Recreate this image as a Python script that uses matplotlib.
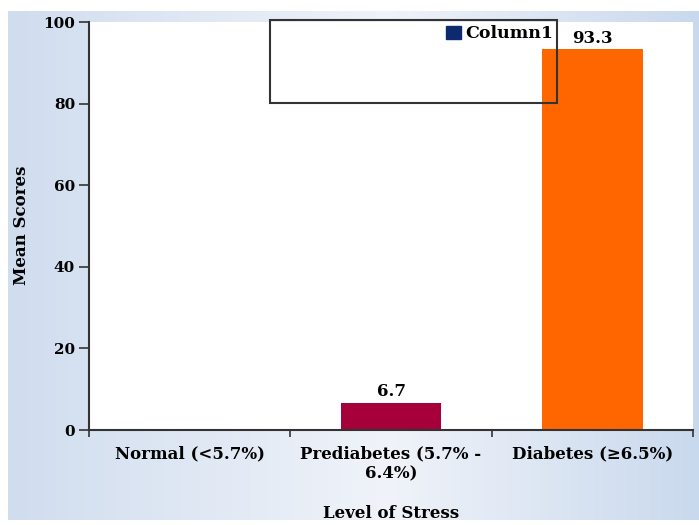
import numpy as np
import matplotlib
matplotlib.use("Agg")
import matplotlib.pyplot as plt
from matplotlib.colors import LinearSegmentedColormap
from matplotlib.patches import Rectangle, Patch

categories = ["Normal (<5.7%)", "Prediabetes (5.7% -\n6.4%)", "Diabetes (\u22656.5%)"]
values = [0, 6.7, 93.3]
bar_colors = ["#1f3f8f", "#a5003a", "#ff6600"]
y_ticks = [0, 20, 40, 60, 80, 100]
legend_label = "Column1"

plt.rcParams['font.family'] = ['DejaVu Serif']
plt.rcParams['font.weight'] = 'bold'

fig = plt.figure(figsize=(6.99, 5.25), dpi=100)
fig.patch.set_facecolor('white')

# gradient background panel
bg = fig.add_axes([8/699, 5/525, 691/699, 509/525])
cmap = LinearSegmentedColormap.from_list(
    "bg", [(0.0, "#d0ddef"), (0.55, "#f0f3f9"), (1.0, "#c9d9ed")])
grad = np.linspace(0, 1, 256).reshape(1, -1)
bg.imshow(grad, aspect='auto', cmap=cmap, extent=[0, 1, 0, 1])
bg.set_axis_off()

ax = fig.add_axes([89/699, 95/525, 604/699, 408/525])
ax.set_facecolor('white')
x = np.arange(len(categories))
bars = ax.bar(x, values, width=0.5, color=bar_colors)
ax.bar_label(bars, labels=[("" if v == 0 else f"{v:g}") for v in values],
             padding=2, fontsize=12, fontweight='bold')

ax.set_xlim(-0.5, len(categories) - 0.5)
ax.set_ylim(0, 100)
ax.set_yticks(y_ticks)
ax.set_yticklabels([str(t) for t in y_ticks], fontsize=11, fontweight='bold')
ax.set_xticks(np.arange(len(categories) + 1) - 0.5)
ax.set_xticklabels([])
ax.set_xticks(x, minor=True)
ax.set_xticklabels(categories, minor=True, fontsize=12, fontweight='bold')
ax.tick_params(axis='x', which='minor', length=0, pad=11)
ax.tick_params(axis='x', which='major', length=5, width=1.2, color='#333333', direction='out')
ax.tick_params(axis='y', length=7, width=1.2, color='#333333', direction='out', pad=3)

for s in ['top', 'right']:
    ax.spines[s].set_visible(False)
for s in ['left', 'bottom']:
    ax.spines[s].set_linewidth(1.5)
    ax.spines[s].set_color('#333333')

# legend frame rectangle
rect = Rectangle((0.2997, 0.8015), 0.4751, 0.2035, transform=ax.transAxes,
                 fill=False, edgecolor='#333333', linewidth=1.5, clip_on=False, zorder=5)
ax.add_patch(rect)
ax.legend(handles=[Patch(facecolor="#0e2a6e", edgecolor="#0e2a6e", label=legend_label)],
          loc='upper right', bbox_to_anchor=(0.7748, 1.0), frameon=False,
          handlelength=0.85, handleheight=0.85, handletextpad=0.25,
          borderaxespad=0.1, borderpad=0.1, prop={'size': 12.5, 'weight': 'bold'})

fig.text(22/699, (525-225)/525, "Mean Scores", rotation=90, ha='center', va='center',
         fontsize=12, fontweight='bold')
fig.text(391/699, (525-514)/525, "Level of Stress", ha='center', va='center',
         fontsize=12, fontweight='bold')

fig.savefig("out.png", dpi=100)
